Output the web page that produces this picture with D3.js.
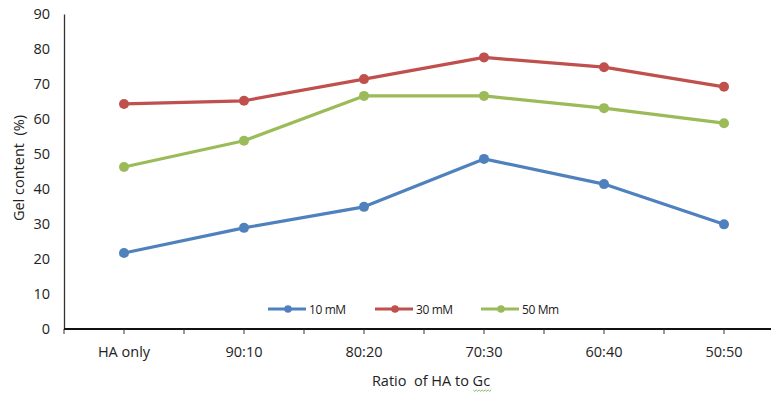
<!DOCTYPE html>
<html><head><meta charset="utf-8">
<script src="https://cdn.jsdelivr.net/npm/d3@7"></script>
<style>body{margin:0;background:#fff}text{font-family:"Open Sans",sans-serif}</style>
</head><body><svg id="c" width="771" height="394"></svg>
<script>
const categories = ["HA only","90:10","80:20","70:30","60:40","50:50"];
const seriesNames = ["10 mM","30 mM","50 Mm"];
const s10 = [21.7, 28.9, 34.9, 48.6, 41.4, 29.9];
const s30 = [64.3, 65.2, 71.4, 77.6, 74.8, 69.2];
const s50 = [46.3, 53.8, 66.6, 66.6, 63.1, 58.8];
const yTicks = [0,10,20,30,40,50,60,70,80,90];
const colors = ["#4F81BD","#C0504D","#9BBB59"];
const series = [s10, s30, s50];

(function(){
const svg = d3.select("#c");
const pL = 64, pR = 784, pT = 14, pB = 329;
const x = d3.scalePoint().domain(categories).range([pL, pR]).padding(0.5);
const y = d3.scaleLinear().domain([0, 90]).range([pB, pT]);
const step = x.step();

// y axis
const ya = svg.append("g").attr("transform", `translate(${pL},0)`)
  .call(d3.axisLeft(y).tickValues(yTicks).tickSize(0).tickPadding(14));
ya.select(".domain").attr("stroke", "#333").attr("stroke-width", 1.3);
ya.selectAll("text").attr("font-size", 14.5).attr("fill", "#222").attr("font-family", "'Open Sans', sans-serif");

// x axis with ticks at every half step
const halfTicks = d3.range(0, 13).map(i => pL + i * step / 2);
const xg = svg.append("g");
xg.append("line").attr("x1", pL).attr("x2", 771).attr("y1", pB).attr("y2", pB)
  .attr("stroke", "#111").attr("stroke-width", 2);
xg.selectAll("line.t").data(halfTicks.filter(v => v <= 771)).join("line").attr("class", "t")
  .attr("x1", d => d).attr("x2", d => d).attr("y1", pB).attr("y2", pB + 5)
  .attr("stroke", "#333").attr("stroke-width", 1);
xg.selectAll("text").data(categories).join("text")
  .attr("x", d => x(d)).attr("y", 357).attr("text-anchor", "middle")
  .attr("font-size", 14.5).attr("fill", "#222").text(d => d);

// axis titles
svg.append("text").attr("transform", "translate(24,168) rotate(-90)")
  .attr("text-anchor", "middle").attr("font-size", 14.5).attr("fill", "#222")
  .attr("xml:space", "preserve").text("Gel content  (%)");
const xt = svg.append("text").attr("x", 431).attr("y", 386).attr("text-anchor", "middle")
  .attr("font-size", 14.5).attr("fill", "#222").attr("xml:space", "preserve").text("Ratio  of HA to Gc");
// spellcheck squiggle under "Gc"
const bb = xt.node().getBBox();
const sqx0 = bb.x + bb.width - 17, sqx1 = bb.x + bb.width;
let sq = `M${sqx0},390`;
for (let xx = sqx0, k = 0; xx < sqx1; xx += 1.5, k++) sq += ` L${xx + 1.5},${390 + (k % 2 ? 0 : 1.3)}`;
svg.append("path").attr("d", sq).attr("fill", "none").attr("stroke", "#6aa84f").attr("stroke-width", 0.8);

// lines
const line = d3.line().x((d, i) => x(categories[i])).y(d => y(d));
series.forEach((s, k) => {
  svg.append("path").datum(s).attr("d", line).attr("fill", "none")
    .attr("stroke", colors[k]).attr("stroke-width", 3.2).attr("stroke-linejoin", "round");
  svg.selectAll(null).data(s).join("circle")
    .attr("cx", (d, i) => x(categories[i])).attr("cy", d => y(d)).attr("r", 5)
    .attr("fill", colors[k]);
});

// legend
const legX = [268, 375, 481];
seriesNames.forEach((n, k) => {
  const g = svg.append("g").attr("transform", `translate(${legX[k]},309)`);
  g.append("line").attr("x1", 0).attr("x2", 38).attr("y1", 0).attr("y2", 0)
    .attr("stroke", colors[k]).attr("stroke-width", 3);
  g.append("circle").attr("cx", 20).attr("cy", 0).attr("r", 3.8).attr("fill", colors[k]);
  g.append("text").attr("x", 41).attr("y", 4.5).attr("font-size", 12).attr("letter-spacing", -0.4)
    .attr("fill", "#222").text(n);
});
})();
</script></body></html>
